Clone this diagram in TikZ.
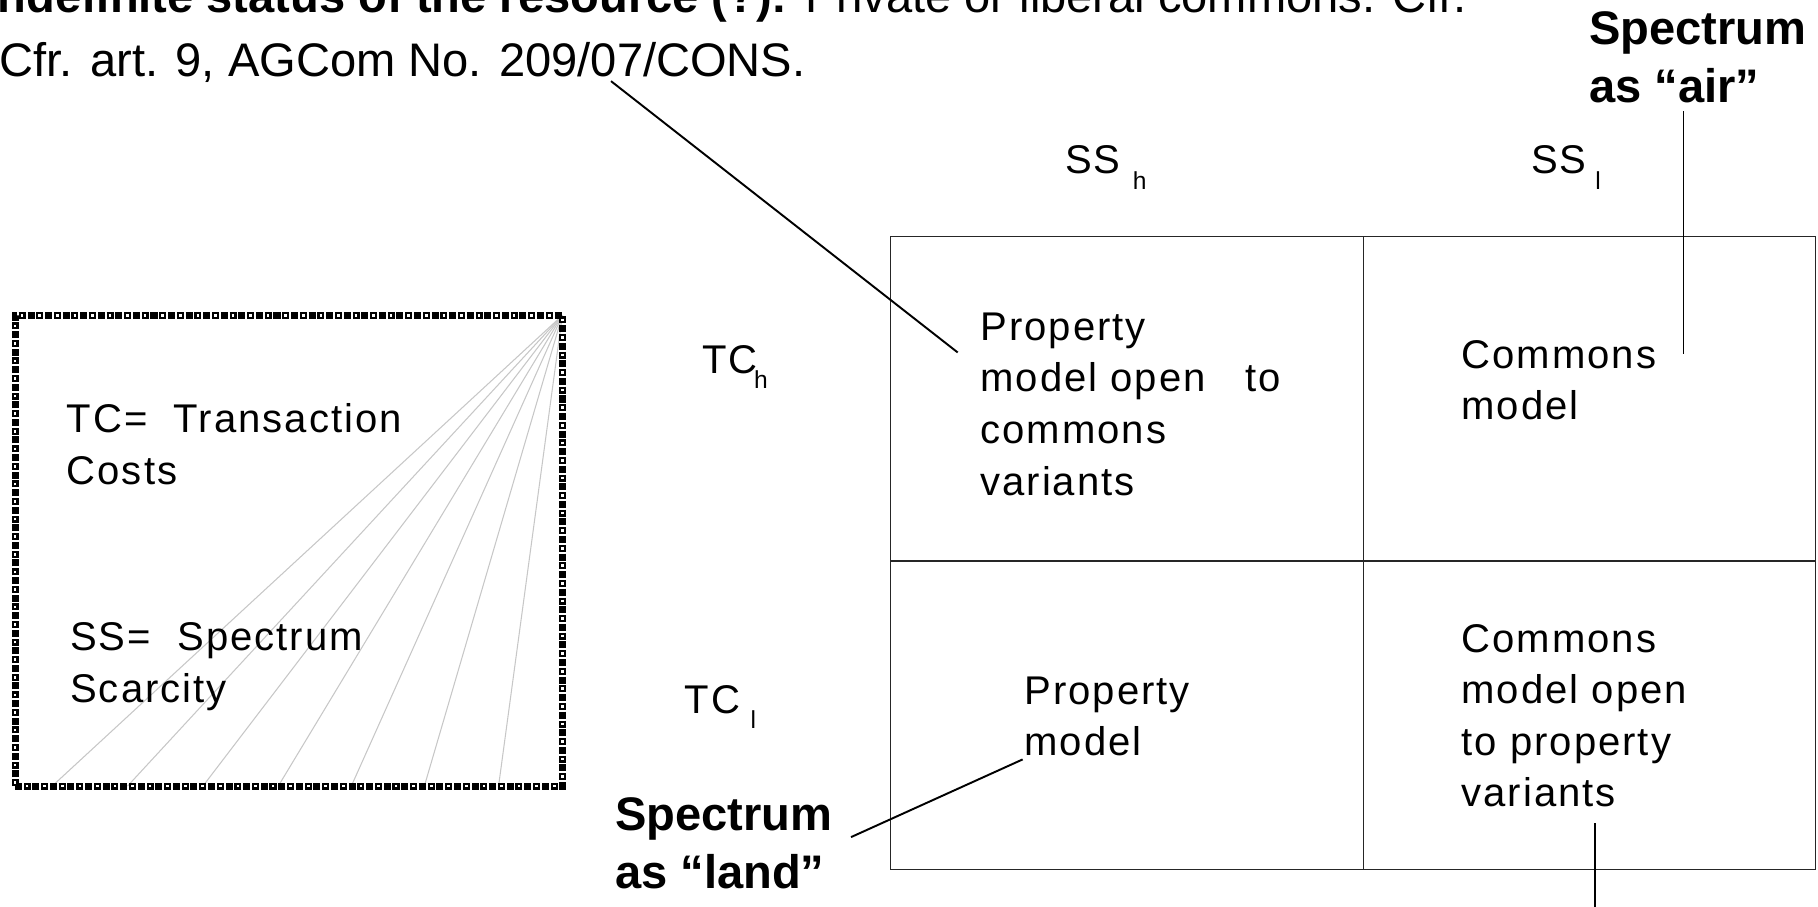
\documentclass[tikz,border=0pt]{standalone}
\usepackage{fontspec}
\setmainfont{Liberation Sans}
\newfontfamily\bodyfont[LetterSpace=5]{Liberation Sans}
\usetikzlibrary{positioning}
\newcommand\lowsub[2]{\hspace{#1}\raisebox{-4.3pt}{\fontsize{7}{8}\selectfont #2}}
\tikzset{
  body/.style={inner sep=0pt,anchor=base west,align=left,font=\bodyfont\fontsize{11.4}{14.7}\selectfont},
  tag/.style={inner sep=0pt,anchor=base west,align=left,font=\bfseries\fontsize{13.4}{16.4}\selectfont},
  cellline/.style={draw=black!85,line width=0.45pt},
  leader/.style={draw=black,line width=0.55pt},
  fan/.style={draw=black!22,line width=0.3pt},
}

\begin{document}
\begin{tikzpicture}[x=0.011594cm,y=-0.011594cm]
  \useasboundingbox (0,0) rectangle (1568,782);
  \clip (0,0) rectangle (1568,782);

  % legend box (base anchor = last line)
  \coordinate (boxsw) at (13,678);
  \coordinate (boxne) at (485,272);
  \foreach \x in {45,110,175,240,303,366,430}
    \draw[fan] (boxne) -- (\x,678);
  \draw[line width=2pt,dash pattern=on 2pt off 0.5pt] (boxsw) rectangle (boxne);
  \draw[white,line width=0.75pt,dash pattern=on 0.75pt off 4.25pt,dash phase=-0.6pt] (boxsw) rectangle (boxne);
  \node[body] (tc) at (57,418) {TC=\ \ Transaction\\Costs};
  \node[body] (ss) at (60,606) {SS=\ \ Spectrum\\Scarcity};

  % note on top
  \node[tag] (note1) at (-14,11) {Indefinite status of the resource (?): \mdseries Private or liberal commons. Cfr.};
  \node[tag] (note2) at (-1,66) {\mdseries Cfr. art. 9, AGCom No. 209/07/CONS.};

  % matrix
  \draw[cellline] (768,204) rectangle (1566,750);
  \draw[cellline] (1176,204) -- (1176,750);
  \draw[cellline] (768,484) -- (1566,484);

  \node[body] (ssh) at (918,150) {SS\lowsub{3.5pt}{h}};
  \node[body] (ssl) at (1320,150) {SS\lowsub{2.5pt}{l}};
  \node[body] (tch) at (605,322) {TC\lowsub{-1pt}{h}};
  \node[body] (tcl) at (590,615) {TC\lowsub{3pt}{l}};

  \node[body] (pcm) at (845,427) {Property\\model open\ \ \ to\\commons\\variants};
  \node[body] (cm) at (1260,362) {Commons\\model};
  \node[body] (pm) at (883,652) {Property\\model};
  \node[body] (cpm) at (1260,696) {Commons\\model open\\to property\\variants};

  \node[tag] (air) at (1370,88) {Spectrum\\as “air”};
  \node[tag] (land) at (530,766) {Spectrum\\as “land”};

  % leaders
  \coordinate (notefoot) at (527,70);
  \coordinate (pcmtip) at (826,304);
  \coordinate (airfoot) at (1452,96);
  \coordinate (cmtip) at (1452,305);
  \coordinate (landtip) at (734,722);
  \coordinate (pmtip) at (882,655);
  \coordinate (cpmtip) at (1376,710);
  \coordinate (cpmfoot) at (1376,790);
  \draw[leader] (notefoot) -- (pcmtip);
  \draw[leader] (airfoot) -- (cmtip);
  \draw[leader] (landtip) -- (pmtip);
  \draw[leader] (cpmtip) -- (cpmfoot);
\end{tikzpicture}
\end{document}
